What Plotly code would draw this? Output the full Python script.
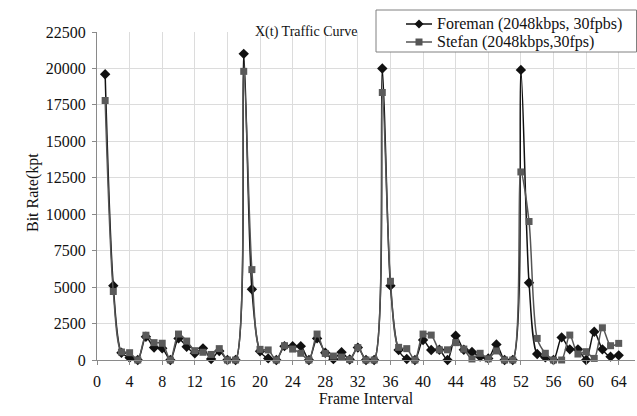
import plotly.graph_objects as go

frames = list(range(1, 65))
foreman = [19600, 5100, 500, 160, 0, 1600, 850, 800, 0, 1480,
           910, 460, 800, 70, 620, 0, 0, 21000, 4850, 600,
           110, 0, 950, 940, 950, 0, 1480, 500, 60, 530,
           30, 850, 0, 0, 20000, 5100, 685, 70, 0, 1370,
           685, 700, 0, 1670, 700, 550, 230, 110, 1070, 0,
           0, 19900, 5300, 410, 180, 0, 1550, 730, 730, 0,
           1940, 730, 230, 320]
stefan = [17800, 4700, 550, 500, 0, 1700, 1190, 1150, 0, 1780,
          1300, 640, 530, 380, 780, 0, 0, 19800, 6200, 730,
          690, 0, 980, 750, 460, 0, 1780, 450, 270, 200,
          30, 850, 0, 0, 18350, 5400, 870, 780, 0, 1780,
          1710, 700, 700, 1190, 750, 70, 460, 80, 620, 0,
          0, 12900, 9500, 1480, 460, 0, 0, 1710, 410, 570,
          110, 2210, 980, 1140]
series_names = ["Foreman (2048kbps, 30fpbs)", "Stefan (2048kbps,30fps)"]
x_ticks = list(range(0, 65, 4))
y_ticks = list(range(0, 22501, 2500))

FONT = "Liberation Serif"
W, H = 637, 416
ML, MR, MT, MB = 97, 2, 32, 56
PW, PH = W - ML - MR, H - MT - MB


def px(x):
    return (x - ML) / PW


def py(y):
    return (H - MB - y) / PH


fig = go.Figure()
fig.add_trace(go.Scatter(
    x=frames, y=foreman, mode="lines+markers", name=series_names[0],
    line=dict(color="#111111", width=1.5, shape="spline", smoothing=0.8),
    marker=dict(symbol="diamond", size=8, color="#111111"),
    cliponaxis=False, showlegend=False))
fig.add_trace(go.Scatter(
    x=frames, y=stefan, mode="lines+markers", name=series_names[1],
    line=dict(color="#555555", width=1.5, shape="spline", smoothing=0.8),
    marker=dict(symbol="square", size=7, color="#5a5a5a"),
    cliponaxis=False, showlegend=False))

axis_common = dict(
    tickmode="array", showgrid=True, gridcolor="#dcdcdc", gridwidth=1,
    showline=True, linecolor="#8a8a8a", linewidth=1,
    ticks="outside", ticklen=4, tickcolor="#8a8a8a",
    zeroline=False, automargin=False, ticklabelstandoff=3,
    tickfont=dict(family=FONT, size=16, color="#111111"),
)

fig.update_layout(
    width=W, height=H,
    margin=dict(l=ML, r=MR, t=MT, b=MB, autoexpand=False),
    paper_bgcolor="white", plot_bgcolor="white",
    font=dict(family=FONT, size=16, color="#111111"),
    showlegend=False,
    xaxis=dict(range=[0, 66], tickvals=x_ticks,
               ticktext=[str(v) for v in x_ticks],
               title=dict(text="Frame Interval", font=dict(family=FONT, size=16), standoff=2),
               **axis_common),
    yaxis=dict(range=[0, 22500], tickvals=y_ticks,
               ticktext=[str(v) for v in y_ticks],
               **axis_common),
)

fig.add_annotation(text="X(t) Traffic Curve", xref="paper", yref="paper",
                   x=px(306), y=py(22), showarrow=False,
                   font=dict(family=FONT, size=14, color="#111111"))
fig.add_annotation(text="Bit Rate(kpt", xref="paper", yref="paper",
                   x=px(22), y=py(193), showarrow=False, textangle=-90,
                   font=dict(family=FONT, size=16, color="#111111"))

# legend box
fig.add_shape(type="rect", xref="paper", yref="paper",
              x0=px(376), x1=px(636.5), y0=py(52), y1=py(10),
              line=dict(color="#808080", width=1), fillcolor="white", layer="above")
# legend entries
leg_rows = [(24, "#111111", "diamond"), (42, "#555555", "square")]
for (yy, col, sym), name in zip(leg_rows, series_names):
    fig.add_shape(type="line", xref="paper", yref="paper",
                  x0=px(406), x1=px(432), y0=py(yy), y1=py(yy),
                  line=dict(color=col, width=1.5), layer="above")
    cx = 419
    if sym == "diamond":
        path = (f"M {px(cx-4.5)} {py(yy)} L {px(cx)} {py(yy-4.5)} "
                f"L {px(cx+4.5)} {py(yy)} L {px(cx)} {py(yy+4.5)} Z")
    else:
        path = (f"M {px(cx-3.5)} {py(yy-3.5)} L {px(cx+3.5)} {py(yy-3.5)} "
                f"L {px(cx+3.5)} {py(yy+3.5)} L {px(cx-3.5)} {py(yy+3.5)} Z")
    fig.add_shape(type="path", xref="paper", yref="paper", path=path,
                  fillcolor=col, line=dict(color=col, width=0), layer="above")
    fig.add_annotation(text=name, xref="paper", yref="paper",
                       x=px(435), y=py(yy), xanchor="left", yanchor="middle",
                       showarrow=False,
                       font=dict(family=FONT, size=16, color="#111111"))

fig.write_html("out.html", config={"displayModeBar": False},
               post_script="document.body.style.margin='0';document.body.style.padding='0';")
